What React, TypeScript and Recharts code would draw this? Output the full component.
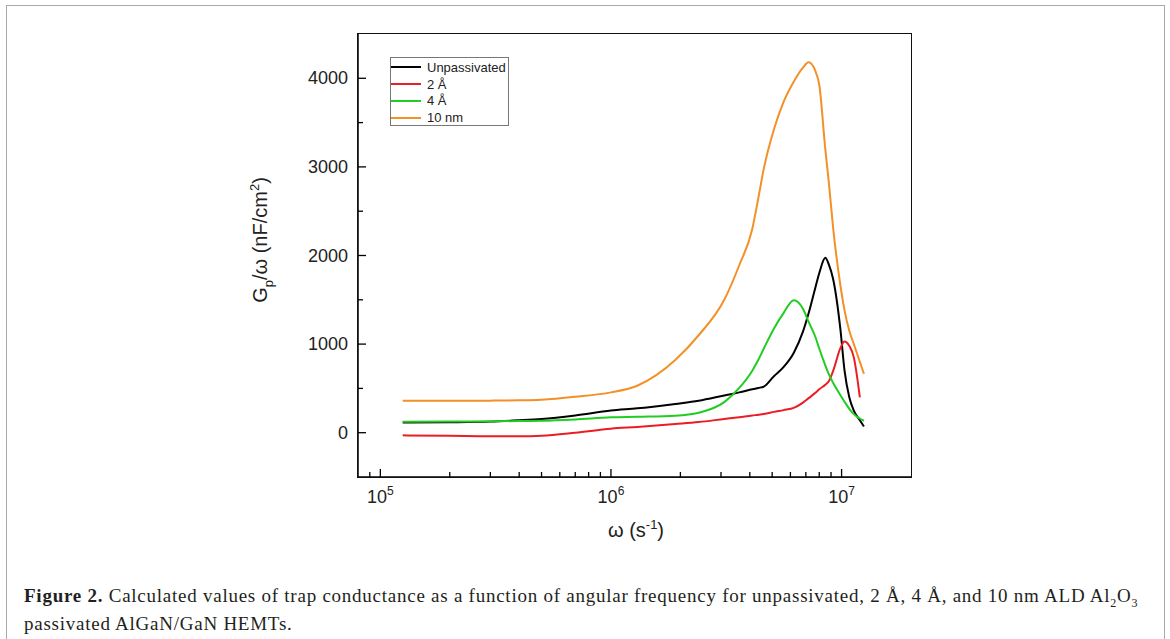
import React from "react";
import { LineChart, Line, XAxis, YAxis, Label } from "recharts";

// angular frequency (s^-1) and Gp/w (nF/cm^2)
const omega = [
  1.25e5, 2e5, 3e5, 4e5, 5e5, 7e5, 1e6, 1.3e6, 1.9e6, 2.4e6, 3.1e6, 3.6e6,
  4.1e6, 4.35e6, 4.6e6, 5.1e6, 5.6e6, 6.2e6, 6.8e6, 7.2e6, 7.7e6, 8e6, 8.5e6,
  8.8e6, 9.2e6, 9.9e6, 1.03e7, 1.08e7, 1.13e7, 1.2e7, 1.25e7,
];
const unpassivated = [
  115, 118, 125, 140, 155, 195, 250, 275, 325, 360, 420, 455, 490, 505, 520,
  640, 740, 900, 1140, 1350, 1640, 1800, 1975, 1900, 1730, 1150, 700, 400, 250,
  140, 70,
];
const ang2 = [
  -30, -35, -40, -40, -34, 0, 45, 65, 98, 120, 155, 175, 195, 202, 210, 235,
  255, 280, 340, 390, 450, 490, 540, 580, 700, 960, 1030, 980, 850, 400, null,
];
const ang4 = [
  125, 127, 128, 132, 135, 150, 173, 180, 192, 225, 345, 505, 700, 820, 950,
  1180, 1350, 1495, 1400, 1250, 1080, 950, 760, 660, 560, 420, 350, 270, 210,
  160, 135,
];
const nm10 = [
  360, 360, 362, 365, 372, 405, 455, 530, 820, 1100, 1500, 1890, 2300, 2640,
  2980, 3430, 3730, 3960, 4120, 4180, 4080, 3930, 3200, 2830, 2300, 1650, 1380,
  1150, 1000, 800, 665,
];

const xTicks = [
  9e4, 1e5, 2e5, 3e5, 4e5, 5e5, 6e5, 7e5, 8e5, 9e5, 1e6, 2e6, 3e6, 4e6, 5e6,
  6e6, 7e6, 8e6, 9e6, 1e7,
];
const yTicks = [0, 500, 1000, 1500, 2000, 2500, 3000, 3500, 4000];

const series = [
  { key: "unpassivated", name: "Unpassivated", color: "#000000" },
  { key: "ang2", name: "2 Å", color: "#ec1c24" },
  { key: "ang4", name: "4 Å", color: "#22cc22" },
  { key: "nm10", name: "10 nm", color: "#f39027" },
];

const data = omega.map((w, i) => ({
  w,
  unpassivated: unpassivated[i],
  ang2: ang2[i],
  ang4: ang4[i],
  nm10: nm10[i],
}));

const AXIS_FONT = "'Liberation Sans', Arial, sans-serif";

const isMajorX = (v: number) => Math.abs(Math.log10(v) - Math.round(Math.log10(v))) < 1e-6;

const XTick = (props: any) => {
  const { x, y, payload } = props;
  const v = payload.value;
  const major = isMajorX(v);
  return (
    <g>
      <line x1={x} y1={y} x2={x} y2={y - (major ? 8 : 5)} stroke="#000" strokeWidth={1.3} />
      {major && (
        <text x={x} y={y + 26} textAnchor="middle" fontSize={18} fill="#222" fontFamily={AXIS_FONT}>
          <tspan>10</tspan>
          <tspan dy={-8} fontSize={12}>
            {Math.round(Math.log10(v))}
          </tspan>
        </text>
      )}
    </g>
  );
};

const YTick = (props: any) => {
  const { x, y, payload } = props;
  const v = payload.value;
  const major = v % 1000 === 0;
  return (
    <g>
      <line x1={x} y1={y} x2={x + (major ? 8 : 5)} y2={y} stroke="#000" strokeWidth={1.3} />
      {major && (
        <text x={x - 10} y={y + 6} textAnchor="end" fontSize={18} fill="#222" fontFamily={AXIS_FONT}>
          {v}
        </text>
      )}
    </g>
  );
};

const Legend = () => (
  <div
    style={{
      position: "absolute",
      left: 390,
      top: 57,
      width: 119,
      height: 69,
      border: "1px solid #777",
      background: "#fff",
      fontFamily: AXIS_FONT,
      fontSize: 13,
      color: "#222",
      boxSizing: "border-box",
      paddingTop: 1,
    }}
  >
    {series.map((s) => (
      <div key={s.key} style={{ display: "flex", alignItems: "center", height: 16.8 }}>
        <div style={{ width: 30, height: 2, background: s.color, marginRight: 6 }} />
        <span>{s.name}</span>
      </div>
    ))}
  </div>
);

export default function App() {
  return (
    <div
      style={{
        position: "absolute",
        left: 0,
        top: 0,
        width: 1170,
        height: 639,
        overflow: "hidden",
        background: "#fff",
      }}
    >
      <div
        style={{
          position: "absolute",
          left: 6,
          top: 5,
          width: 1157,
          height: 700,
          border: "1px solid #aaa",
        }}
      />
      <div style={{ position: "absolute", left: 0, top: 0 }}>
        <LineChart
          width={1170}
          height={560}
          data={data}
          margin={{ top: 34, right: 259, left: 298, bottom: 43 }}
        >
          <XAxis
            dataKey="w"
            type="number"
            scale="log"
            domain={[8e4, 2e7]}
            allowDataOverflow
            ticks={xTicks}
            interval={0}
            height={40}
            tickSize={0}
            tickMargin={0}
            tickLine={false}
            tick={<XTick />}
            axisLine={{ stroke: "#000", strokeWidth: 1.5 }}
          >
            <Label
              content={() => (
                <text x={636} y={537} textAnchor="middle" fontSize={20} fill="#222" fontFamily={AXIS_FONT}>
                  ω (s
                  <tspan dy={-8} fontSize={13}>
                    -1
                  </tspan>
                  <tspan dy={8}>)</tspan>
                </text>
              )}
            />
          </XAxis>
          <YAxis
            type="number"
            domain={[-500, 4500]}
            allowDataOverflow
            ticks={yTicks}
            interval={0}
            width={60}
            tickSize={0}
            tickMargin={0}
            tickLine={false}
            tick={<YTick />}
            axisLine={{ stroke: "#000", strokeWidth: 1.5 }}
          >
            <Label
              content={() => (
                <text
                  x={267}
                  y={240}
                  transform="rotate(-90 267 240)"
                  textAnchor="middle"
                  fontSize={20}
                  fill="#222"
                  fontFamily={AXIS_FONT}
                >
                  G
                  <tspan dy={6} fontSize={13}>
                    p
                  </tspan>
                  <tspan dy={-6}>/ω (nF/cm</tspan>
                  <tspan dy={-8} fontSize={13}>
                    2
                  </tspan>
                  <tspan dy={8}>)</tspan>
                </text>
              )}
            />
          </YAxis>
          {series.map((s) => (
            <Line
              key={s.key}
              type="monotone"
              dataKey={s.key}
              name={s.name}
              stroke={s.color}
              strokeWidth={2}
              dot={false}
              connectNulls={false}
              isAnimationActive={false}
            />
          ))}
        </LineChart>
      </div>
      {/* plot frame (top/right sides) */}
      <div
        style={{
          position: "absolute",
          left: 357,
          top: 33,
          width: 553,
          height: 443,
          border: "1.5px solid #111",
          pointerEvents: "none",
        }}
      />
      <Legend />
      <div
        style={{
          position: "absolute",
          left: 24,
          top: 582,
          width: 1140,
          fontFamily: "'Liberation Serif', 'DejaVu Serif', serif",
          fontSize: 19,
          letterSpacing: 0.75,
          lineHeight: "28px",
          color: "#231f20",
          whiteSpace: "nowrap",
        }}
      >
        <b>Figure 2.</b> Calculated values of trap conductance as a function of angular frequency for
        unpassivated, 2 Å, 4 Å, and 10 nm ALD Al<sub style={{ fontSize: 12, lineHeight: 0 }}>2</sub>O
        <sub style={{ fontSize: 12, lineHeight: 0 }}>3</sub>
        <br />
        passivated AlGaN/GaN HEMTs.
      </div>
    </div>
  );
}
